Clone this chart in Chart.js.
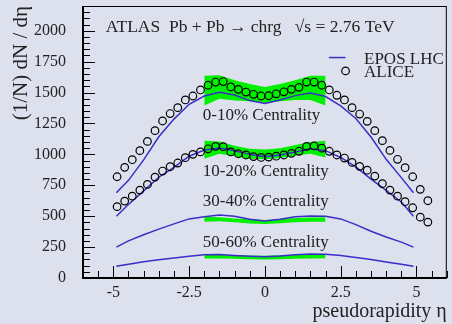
<!DOCTYPE html>
<html>
<head>
<meta charset="utf-8">
<script src="https://cdn.jsdelivr.net/npm/chart.js@4.4.1/dist/chart.umd.min.js"></script>
<style>
  html, body { margin: 0; padding: 0; background: #dde1ed; }
  #wrap { width: 452px; height: 324px; }
</style>
</head>
<body>
<div id="wrap"><canvas id="chart" width="452" height="324"></canvas></div>
<script>
// ALICE points (eta bins of 0.25)
const aliceEta = [-4.875, -4.625, -4.375, -4.125, -3.875, -3.625, -3.375, -3.125, -2.875, -2.625,
    -2.375, -2.125, -1.875, -1.625, -1.375, -1.125, -0.875, -0.625, -0.375, -0.125,
    0.125, 0.375, 0.625, 0.875, 1.125, 1.375, 1.625, 1.875, 2.125, 2.375,
    2.625, 2.875, 3.125, 3.375, 3.625, 3.875, 4.125, 4.375, 4.625, 4.875, 5.125, 5.375];
const alice0_10 = [819, 895, 957, 1030, 1105, 1192, 1270, 1330, 1378, 1440,
    1472, 1521, 1559, 1585, 1589, 1545, 1526, 1504, 1486, 1472,
    1474, 1490, 1506, 1526, 1542, 1585, 1585, 1559, 1521, 1478,
    1440, 1378, 1326, 1267, 1192, 1111, 1032, 960, 892, 819, 717, 625];
const alice10_20 = [577, 622, 662, 711, 757, 816, 865, 900, 930, 973,
    1000, 1020, 1045, 1065, 1062, 1020, 1005, 995, 982, 975,
    978, 985, 995, 1008, 1025, 1065, 1068, 1050, 1025, 995,
    970, 935, 903, 872, 824, 763, 711, 662, 617, 568, 492, 452];

// EPOS LHC curves
const eposEta = [-4.9, -4.5, -4, -3.5, -3, -2.5, -2, -1.5, -1, -0.5, 0,
    0.5, 1, 1.5, 2, 2.5, 3, 3.5, 4, 4.5, 4.9];
const epos0_10 = [690, 790, 955, 1142, 1285, 1405, 1472, 1503, 1480, 1435, 1412,
    1440, 1475, 1497, 1468, 1392, 1290, 1140, 960, 812, 690];
const epos10_20 = [500, 595, 705, 815, 895, 985, 1035, 1052, 1030, 1000, 980,
    995, 1020, 1045, 1030, 975, 898, 800, 708, 615, 500];
const epos30_40 = [250, 300, 350, 395, 438, 478, 495, 510, 500, 475, 462,
    475, 495, 502, 500, 478, 432, 378, 332, 290, 250];
const epos50_60 = [95, 112, 132, 148, 162, 176, 188, 190, 182, 176, 172,
    178, 188, 195, 192, 182, 166, 150, 130, 112, 95];

// ATLAS data bands (lower / upper edge)
const bandEta = [-2, -1.5, -1, -0.5, 0, 0.5, 1, 1.5, 2];
const band0_10Lo = [1395, 1450, 1435, 1430, 1418, 1430, 1440, 1440, 1395];
const band0_10Hi = [1635, 1640, 1600, 1570, 1545, 1570, 1600, 1635, 1635];
const band10_20Lo = [965, 1005, 985, 965, 960, 970, 990, 1005, 975];
const band10_20Hi = [1110, 1105, 1070, 1045, 1040, 1050, 1075, 1100, 1110];
const band30_40Lo = [455, 458, 450, 440, 437, 442, 450, 455, 455];
const band30_40Hi = [495, 492, 482, 475, 470, 477, 485, 490, 492];
const band50_60Lo = [158, 157, 155, 152, 150, 152, 155, 158, 160];
const band50_60Hi = [190, 188, 185, 182, 180, 184, 188, 192, 195];

const xTicks = [-5, -2.5, 0, 2.5, 5];
const yTicks = [0, 250, 500, 750, 1000, 1250, 1500, 1750, 2000];

const SERIF = "'Liberation Serif', 'Times New Roman', serif";
const BLUE = '#3a2ec8';
const GREEN = '#00f000';

function pts(xs, ys) {
    return xs.map((x, i) => ({ x: x, y: ys[i] }));
}

function bandSets(lo, hi) {
    return [
        { data: pts(bandEta, lo), borderWidth: 0, pointRadius: 0, fill: false, order: 3 },
        { data: pts(bandEta, hi), borderWidth: 0, pointRadius: 0, fill: '-1', backgroundColor: GREEN, order: 3 }
    ];
}

function eposSet(ys) {
    return { data: pts(eposEta, ys), borderColor: BLUE, borderWidth: 1.5, pointRadius: 0, fill: false, order: 2 };
}

function aliceSet(ys) {
    return { data: pts(aliceEta, ys), showLine: false, pointRadius: 3.8, pointBorderWidth: 1.2,
        pointBorderColor: '#000', pointBackgroundColor: 'rgba(0,0,0,0)', order: 1 };
}

function noPad(s) {
    s.paddingTop = 0;
    s.paddingBottom = 0;
    s.paddingLeft = 0;
    s.paddingRight = 0;
}

// frame, inward ticks and the text on the plot
const decor = {
    id: 'decor',
    afterDatasetsDraw(chart) {
        const { ctx, chartArea: a, scales: { x, y } } = chart;
        ctx.save();
        ctx.strokeStyle = '#000';
        ctx.lineWidth = 1;
        ctx.beginPath();
        // minor / major ticks on x
        for (let v = -6; v <= 6.001; v += 0.5) {
            const px = Math.round(x.getPixelForValue(v)) + 0.5;
            const len = xTicks.includes(v) ? 12 : 7;
            ctx.moveTo(px, a.bottom);
            ctx.lineTo(px, a.bottom - len);
        }
        for (let v = 0; v <= 2200; v += 50) {
            const py = Math.round(y.getPixelForValue(v)) + 0.5;
            const len = yTicks.includes(v) ? 12 : 7;
            ctx.moveTo(a.left, py);
            ctx.lineTo(a.left + len, py);
        }
        ctx.stroke();
        // frame
        ctx.strokeRect(a.left + 0.5, a.top + 0.5, a.right - a.left - 1, a.bottom - a.top - 1);
        ctx.lineWidth = 2;
        ctx.beginPath();
        ctx.moveTo(a.left, a.top);
        ctx.lineTo(a.left, a.bottom);
        ctx.lineTo(a.right, a.bottom);
        ctx.stroke();

        // text
        ctx.fillStyle = '#222';
        ctx.font = '17.5px ' + SERIF;
        ctx.textBaseline = 'middle';
        ctx.textAlign = 'left';
        ctx.fillText('ATLAS  Pb + Pb \u2192 chrg   \u221As = 2.76 TeV', x.getPixelForValue(-5.25), y.getPixelForValue(2023));
        ctx.font = '17px ' + SERIF;
        ctx.fillText('0-10% Centrality', x.getPixelForValue(-2.05), y.getPixelForValue(1316));
        ctx.fillText('10-20% Centrality', x.getPixelForValue(-2.05), y.getPixelForValue(865));
        ctx.fillText('30-40% Centrality', x.getPixelForValue(-2.05), y.getPixelForValue(619));
        ctx.fillText('50-60% Centrality', x.getPixelForValue(-2.05), y.getPixelForValue(285));

        // legend
        const lx = x.getPixelForValue(3.27);
        ctx.fillText('EPOS LHC', lx, y.getPixelForValue(1765));
        ctx.fillText('ALICE', lx, y.getPixelForValue(1665));
        ctx.strokeStyle = BLUE;
        ctx.lineWidth = 1.5;
        ctx.beginPath();
        ctx.moveTo(x.getPixelForValue(2.11), y.getPixelForValue(1783));
        ctx.lineTo(x.getPixelForValue(2.66), y.getPixelForValue(1783));
        ctx.stroke();
        ctx.strokeStyle = '#000';
        ctx.lineWidth = 1.2;
        ctx.beginPath();
        ctx.arc(x.getPixelForValue(2.66), y.getPixelForValue(1675), 3.8, 0, Math.PI * 2);
        ctx.stroke();
        ctx.restore();
    }
};

new Chart(document.getElementById('chart'), {
    type: 'line',
    data: {
        datasets: [
            ...bandSets(band0_10Lo, band0_10Hi),
            ...bandSets(band10_20Lo, band10_20Hi),
            ...bandSets(band30_40Lo, band30_40Hi),
            ...bandSets(band50_60Lo, band50_60Hi),
            eposSet(epos0_10),
            eposSet(epos10_20),
            eposSet(epos30_40),
            eposSet(epos50_60),
            aliceSet(alice0_10),
            aliceSet(alice10_20)
        ]
    },
    options: {
        responsive: false,
        animation: false,
        layout: { padding: { left: 0, right: 2, top: 6, bottom: 0 } },
        plugins: { legend: { display: false }, tooltip: { enabled: false } },
        scales: {
            x: {
                type: 'linear',
                min: -6,
                max: 6,
                afterBuildTicks: s => { s.ticks = xTicks.map(v => ({ value: v })); },
                afterFit: s => { s.height = 46; noPad(s); },
                grid: { display: false, drawTicks: false },
                border: { display: false },
                ticks: { padding: 5, color: '#222', font: { family: SERIF, size: 16 }, maxRotation: 0,
                    callback: v => String(v) },
                title: { display: true, text: 'pseudorapidity \u03B7', align: 'end', color: '#222',
                    font: { family: SERIF, size: 20 }, padding: { bottom: 0 } }
            },
            y: {
                type: 'linear',
                min: 0,
                max: 2200,
                afterBuildTicks: s => { s.ticks = yTicks.map(v => ({ value: v })); },
                afterFit: s => { s.width = 83; noPad(s); },
                grid: { display: false, drawTicks: false },
                border: { display: false },
                ticks: { padding: 17, color: '#222', font: { family: SERIF, size: 16 },
                    callback: v => String(v) },
                title: { display: true, text: '(1/N) dN / d\u03B7', align: 'end', color: '#222',
                    font: { family: SERIF, size: 21 }, padding: { top: 9 } }
            }
        }
    },
    plugins: [decor]
});
</script>
</body>
</html>
